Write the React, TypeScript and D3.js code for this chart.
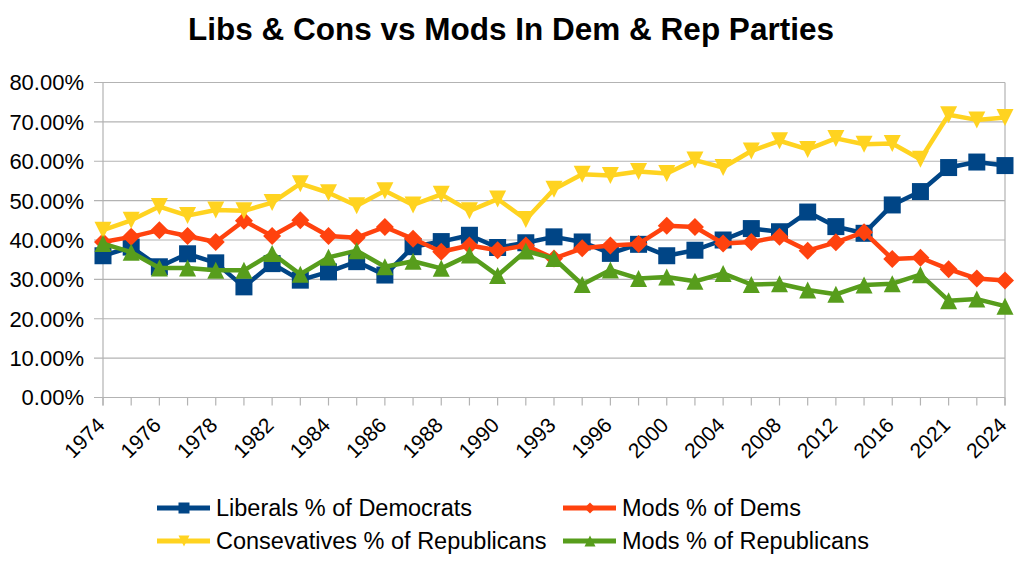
import * as d3 from "d3";

const years = [
  "1974", "1975", "1976", "1977", "1978", "1980", "1982", "1983", "1984", "1985",
  "1986", "1987", "1988", "1989", "1990", "1991", "1993", "1994", "1996", "1998",
  "2000", "2002", "2004", "2006", "2008", "2010", "2012", "2014", "2016", "2018",
  "2021", "2022", "2024",
];
// labels shown on every other category
const shownYears = years.filter((_, i) => i % 2 === 0);

const liberalsDem = [
  36.0, 38.2, 33.2, 36.5, 34.2, 28.1, 34.0, 29.8, 31.9, 34.5,
  31.1, 38.3, 39.6, 41.2, 38.1, 39.3, 40.8, 39.5, 36.6, 38.9,
  36.0, 37.4, 40.0, 42.9, 42.1, 47.1, 43.4, 41.7, 48.9, 52.3,
  58.4, 59.8, 58.9,
];
const modsDem = [
  39.5, 40.8, 42.5, 41.0, 39.5, 44.9, 41.0, 45.0, 41.0, 40.6,
  43.3, 40.3, 37.0, 38.6, 37.4, 38.6, 35.3, 37.9, 38.6, 39.0,
  43.6, 43.3, 39.1, 39.5, 40.8, 37.3, 39.4, 42.0, 35.2, 35.5,
  32.6, 30.2, 29.7,
];
const consRep = [
  42.5, 45.0, 48.5, 46.2, 47.6, 47.4, 49.5, 54.3, 52.0, 48.7,
  52.5, 48.9, 51.6, 47.4, 50.4, 45.2, 52.9, 56.7, 56.4, 57.4,
  56.9, 60.3, 58.4, 62.6, 65.2, 63.0, 65.8, 64.3, 64.5, 60.5,
  71.8, 70.5, 71.1,
];
const modsRep = [
  39.1, 36.9, 32.9, 32.9, 32.3, 32.3, 36.6, 31.3, 35.6, 37.3,
  33.2, 34.6, 32.8, 36.2, 31.0, 37.2, 35.3, 28.7, 32.4, 30.2,
  30.6, 29.5, 31.5, 28.7, 28.9, 27.3, 26.2, 28.6, 28.9, 31.2,
  24.6, 25.0, 23.2,
];
const yTicks = [0, 10, 20, 30, 40, 50, 60, 70, 80];

const series = [
  { name: "Liberals % of Democrats", values: liberalsDem, color: "#004586", marker: "square" },
  { name: "Mods % of Dems", values: modsDem, color: "#ff420e", marker: "diamond" },
  { name: "Consevatives % of Republicans", values: consRep, color: "#ffd320", marker: "down" },
  { name: "Mods % of Republicans", values: modsRep, color: "#579d1c", marker: "up" },
];

const W = 1021;
const H = 561;
const plot = { left: 103, right: 1005, top: 82.5, bottom: 397.5 };
const font = "'Liberation Sans', Arial, sans-serif";

function markerPath(kind: string, s: number) {
  const h = s / 2;
  if (kind === "square") return `M${-h},${-h}H${h}V${h}H${-h}Z`;
  if (kind === "diamond") return `M0,${-h}L${h},0L0,${h}L${-h},0Z`;
  if (kind === "down") return `M${-h},${-h}H${h}L0,${h}Z`;
  return `M0,${-h}L${h},${h}H${-h}Z`;
}

export default function App() {
  const x = d3.scalePoint<string>().domain(years).range([plot.left, plot.right]);
  const y = d3.scaleLinear().domain([0, 80]).range([plot.bottom, plot.top]);
  const line = d3
    .line<number>()
    .x((_, i) => x(years[i]) as number)
    .y((d) => y(d));

  const legendPos = [
    { x: 157, y: 508 },
    { x: 563, y: 508 },
    { x: 157, y: 541 },
    { x: 563, y: 541 },
  ];

  return (
    <svg
      width={W}
      height={H}
      style={{ position: "absolute", left: 0, top: 0, background: "#fff" }}
      fontFamily={font}
    >
      <text x={511} y={40} textAnchor="middle" fontSize={31.5} fontWeight="bold">
        Libs &amp; Cons vs Mods In Dem &amp; Rep Parties
      </text>

      {/* grid + y axis */}
      {yTicks.map((t) => (
        <g key={t}>
          <line x1={plot.left - 9} x2={plot.right} y1={y(t)} y2={y(t)} stroke="#b3b3b3" strokeWidth={1.2} />
          <text x={84} y={y(t)} dy="0.36em" textAnchor="end" fontSize={22}>
            {t.toFixed(2)}%
          </text>
        </g>
      ))}
      <line x1={plot.left} x2={plot.left} y1={plot.top} y2={plot.bottom + 8} stroke="#b3b3b3" strokeWidth={1.2} />
      <line x1={plot.right} x2={plot.right} y1={plot.top} y2={plot.bottom + 8} stroke="#b3b3b3" strokeWidth={1.2} />

      {/* x axis ticks and labels */}
      {years.map((yr) => (
        <line key={yr} x1={x(yr)} x2={x(yr)} y1={plot.bottom} y2={plot.bottom + 8} stroke="#b3b3b3" strokeWidth={1.2} />
      ))}
      {shownYears.map((yr) => (
        <text
          key={yr}
          transform={`translate(${(x(yr) as number) + 3},${plot.bottom + 29}) rotate(-45)`}
          textAnchor="end"
          fontSize={21}
        >
          {yr}
        </text>
      ))}

      {/* series */}
      {series.map((s) => (
        <g key={s.name}>
          <path d={line(s.values) ?? ""} fill="none" stroke={s.color} strokeWidth={4.5} strokeLinejoin="round" />
          {s.values.map((v, i) => (
            <path
              key={i}
              d={markerPath(s.marker, s.marker === "diamond" ? 18 : 17)}
              transform={`translate(${x(years[i])},${y(v)})`}
              fill={s.color}
            />
          ))}
        </g>
      ))}

      {/* legend */}
      {series.map((s, i) => {
        const p = legendPos[i];
        return (
          <g key={s.name} transform={`translate(${p.x},${p.y})`}>
            <line x1={0} x2={53} y1={0} y2={0} stroke={s.color} strokeWidth={5} />
            <path d={markerPath(s.marker, 11)} transform="translate(27,0)" fill={s.color} />
            <text x={59} y={0} dy="0.36em" fontSize={23.5}>
              {s.name}
            </text>
          </g>
        );
      })}
    </svg>
  );
}
